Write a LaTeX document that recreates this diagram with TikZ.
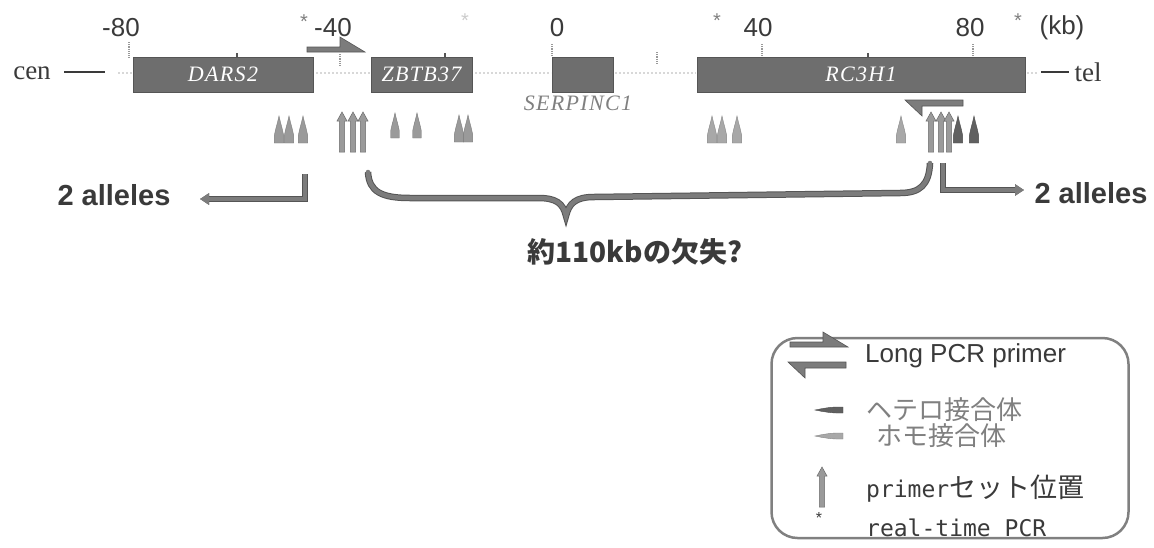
\documentclass[tikz,border=0pt]{standalone}
\usepackage{fontspec}
\setmainfont{Liberation Serif}
\setsansfont{Liberation Sans}
\newfontfamily\cjk{Noto Sans CJK JP}
\newfontfamily\monof{DejaVu Sans Mono}
\newfontfamily\genef[LetterSpace=6]{Liberation Serif}
\usetikzlibrary{arrows.meta}
\definecolor{boxgray}{HTML}{6E6E6E}
\definecolor{boxline}{HTML}{555555}
\definecolor{txtdark}{HTML}{3A3A3A}
\definecolor{peaklight}{HTML}{A8A8A8}
\definecolor{peakmid}{HTML}{9A9A9A}
\definecolor{peakdark}{HTML}{606060}
\definecolor{arrowgray}{HTML}{7C7C7C}
\definecolor{faint}{HTML}{D8D8D8}
\tikzset{
  genebox/.style={draw=boxline, fill=boxgray, line width=1pt, inner sep=0pt, minimum height=35pt,
    text=white, font=\genef\itshape\fontsize{22}{22}\selectfont},
  scalelbl/.style={text=txtdark, font=\sffamily\fontsize{26}{26}\selectfont, inner sep=0pt},
  star/.style={text=gray, font=\sffamily\fontsize{20}{20}\selectfont, inner sep=0pt},
  tickline/.style={draw=gray!80, line width=1.6pt, dash pattern=on 1.2pt off 1pt},
  faintline/.style={draw=faint, line width=1.5pt, dash pattern=on 2pt off 2pt},
  endline/.style={draw=txtdark, line width=1.8pt},
  serlbl/.style={text=txtdark, font=\fontsize{27}{27}\selectfont, inner sep=0pt},
  primerfill/.style={fill=arrowgray, draw=boxline, line width=0.6pt},
  bracket/.style={draw=arrowgray, line width=4.5pt, line join=miter},
  bracketline/.style={bracket, preaction={draw=boxline, line width=6.5pt}},
  allele/.style={text=txtdark, font=\sffamily\bfseries\fontsize{29}{29}\selectfont, inner sep=0pt},
  fwdprimer/.pic={\path[pic actions] (0,0) -- (33,0) -- (33,-10) -- (58,5) -- (0,5) -- cycle;},
  revprimer/.pic={\path[pic actions] (0,0) -- (-58,0) -- (-41,16) -- (-41,6) -- (0,6) -- cycle;},
  peak/.pic={\path[pic actions] (-4.6,0) -- (-4.6,-8) -- (-3,-15) -- (-1.4,-21) -- (0,-27) -- (1.4,-21) -- (3,-15) -- (4.6,-8) -- (4.6,0) -- cycle;},
  uparrow/.pic={\path[pic actions] (-2.6,0) -- (-2.6,-31) -- (-5,-31) -- (0,-40) -- (5,-31) -- (2.6,-31) -- (2.6,0) -- cycle;},
  legtext/.style={anchor=west, inner sep=0pt},
}
\begin{document}
\begin{tikzpicture}[x=1pt,y=-1pt]
\useasboundingbox[fill=white] (0,0) rectangle (1154,547);

% faint backbone
\draw[faintline] (118,73) -- (133,73);
\draw[faintline] (316,73) -- (370,73);
\draw[faintline] (475,73) -- (551,73);
\draw[faintline] (615,73) -- (696,73);
\draw[faintline] (1027,73) -- (1037,73);

% ticks
\draw[tickline] (129,42) -- (129,58);
\draw[tickline] (340,54) -- (340,66);
\draw[tickline] (552,44) -- (552,57);
\draw[tickline] (657,52) -- (657,64);
\draw[tickline] (762,44) -- (762,57);
\draw[tickline] (973,44) -- (973,57);
\draw[draw=boxline, line width=1.2pt] (237,53) -- (237,57);
\draw[draw=boxline, line width=1.2pt] (445,53) -- (445,57);
\draw[draw=boxline, line width=1.2pt] (868,53) -- (868,57);

% gene boxes
\node[genebox, minimum width=180pt] (dars2) at (223,74.5) {DARS2};
\node[genebox, minimum width=101pt] (zbtb37) at (421.5,74.5) {ZBTB37};
\node[genebox, minimum width=61pt] (serp) at (582.5,74.5) {};
\node[genebox, minimum width=328pt] (rc3h1) at (861,74.5) {RC3H1};
\node[text=gray, font=\genef\itshape\fontsize{22}{22}\selectfont, inner sep=0pt] (serplbl) at (578,103) {SERPINC1};

% ends
\node[serlbl] (cen) at (32,73) {cen};
\node[serlbl] (tel) at (1088,72) {tel};
\coordinate (cenA) at (64,72);
\coordinate (cenB) at (105,72);
\coordinate (telA) at (1041,72);
\coordinate (telB) at (1069,72);
\draw[endline] (cenA) -- (cenB);
\draw[endline] (telA) -- (telB);

% scale labels
\node[scalelbl] (m80) at (121,28) {-80};
\node[scalelbl] (m40) at (333,28) {-40};
\node[scalelbl] (z0) at (557,28) {0};
\node[scalelbl] (p40) at (758,28) {40};
\node[scalelbl] (p80) at (970,28) {80};
\node[scalelbl] (kb) at (1062,28) {(kb)};
\node[star] (s1) at (304,22) {*};
\node[star, text=gray!40] (s2) at (465,21) {*};
\node[star] (s3) at (717,21) {*};
\node[star] (s4) at (1018,21) {*};

% long PCR primers
\pic[primerfill] at (307,47) {fwdprimer};
\pic[primerfill] at (963,100) {revprimer};

% peaks and primer sets
\foreach \x in {279,289,303} {\pic[fill=peakmid, draw=peakmid!80!black, line width=0.4pt] at (\x,143) {peak};}
\foreach \x in {395,417} {\pic[fill=peakmid, draw=peakmid!80!black, line width=0.4pt, scale=0.93] at (\x,138) {peak};}
\foreach \x in {459,468} {\pic[fill=peakmid, draw=peakmid!80!black, line width=0.4pt] at (\x,142) {peak};}
\foreach \x in {712,722,737} {\pic[fill=peaklight, draw=peaklight!80!black, line width=0.4pt] at (\x,143) {peak};}
\pic[fill=peaklight, draw=peaklight!80!black, line width=0.4pt] at (901,143) {peak};
\foreach \x in {958,974} {\pic[fill=peakdark, draw=peakdark!80!black, line width=0.4pt] at (\x,143) {peak};}
\foreach \x in {342,353,363} {\pic[fill=peakmid, draw=peakmid!70!black, line width=0.5pt] at (\x,152) {uparrow};}
\foreach \x in {931,941,949} {\pic[fill=peakmid, draw=peakmid!70!black, line width=0.5pt] at (\x,152) {uparrow};}

% 2 alleles brackets
\node[allele] (alL) at (114,195) {2 alleles};
\node[allele] (alR) at (1091,193) {2 alleles};
\coordinate (lbTop) at (305,174);
\coordinate (lbCorner) at (305,199);
\coordinate (lbEnd) at (200,199);
\draw[bracketline, -{Triangle[length=9pt,width=11pt]}] (lbTop) -- (lbCorner) -- (lbEnd);
\coordinate (rbTop) at (943,163);
\coordinate (rbCorner) at (943,190);
\coordinate (rbEnd) at (1024,190);
\draw[bracketline, -{Triangle[length=9pt,width=11pt]}] (rbTop) -- (rbCorner) -- (rbEnd);

% brace
\coordinate (brL) at (368,172);
\coordinate (brTip) at (566,216);
\coordinate (brR) at (930,163);
\draw[bracketline, line cap=round] (brL) .. controls (369,192) and (382,198) .. (410,198)
  -- (538,198) .. controls (556,198) and (563,203) .. (brTip)
  .. controls (569,203) and (576,197) .. (594,197)
  -- (900,193) .. controls (920,193) and (929,185) .. (brR);
\node[text=txtdark, font=\cjk\bfseries\fontsize{28}{28}\selectfont, inner sep=0pt] (del) at (635,252) {約110kbの欠失?};

% legend
\node[draw=gray, line width=2.5pt, rounded corners=26pt, minimum width=357pt, minimum height=200pt, inner sep=0pt] (legend) at (950,438) {};
\pic[primerfill] at (790,342) {fwdprimer};
\pic[primerfill] at (846,362) {revprimer};
\node[legtext, text=txtdark, font=\sffamily\fontsize{26}{26}\selectfont] (lg1) at (865,356) {Long PCR primer};
\path[fill=peakdark, draw=peakdark!80!black, line width=0.4pt] (815,410) -- (822,408.6) -- (830,407.4) -- (836,407) -- (843,407) -- (843,413) -- (836,413) -- (830,412.6) -- (822,411.4) -- cycle;
\node[legtext, text=gray, font=\cjk\fontsize{26}{26}\selectfont] (lg2) at (866,410) {ヘテロ接合体};
\path[fill=peaklight, draw=peaklight!80!black, line width=0.4pt] (815,436) -- (822,434.6) -- (830,433.4) -- (836,433) -- (843,433) -- (843,439) -- (836,439) -- (830,438.6) -- (822,437.4) -- cycle;
\node[legtext, text=gray, font=\cjk\fontsize{26}{26}\selectfont] (lg3) at (876,436) {ホモ接合体};
\pic[fill=peakmid, draw=peakmid!70!black, line width=0.5pt] at (822,507) {uparrow};
\node[star, text=txtdark, font=\sffamily\fontsize{16}{16}\selectfont] (lgs) at (819,518) {*};
\node[legtext, text=txtdark] (lg4) at (866,489) {\monof\fontsize{23}{23}\selectfont primer\cjk\fontsize{27}{27}\selectfont セット位置};
\node[legtext, text=txtdark, font=\monof\fontsize{23}{23}\selectfont] (lg5) at (866,528) {real-time PCR};
\end{tikzpicture}
\end{document}
